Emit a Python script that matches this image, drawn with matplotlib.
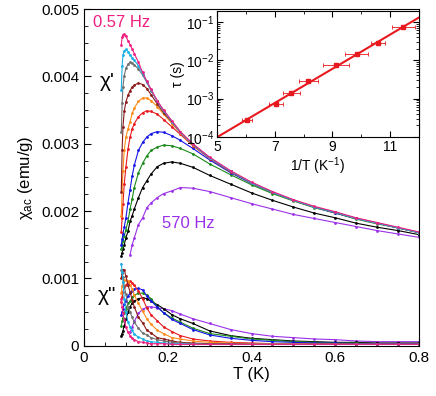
import matplotlib
matplotlib.use('Agg')

import numpy as np
import matplotlib.pyplot as plt
from matplotlib.ticker import MultipleLocator, FixedLocator, FuncFormatter

plt.rcParams['font.family'] = ['Liberation Sans', 'DejaVu Sans']
plt.rcParams['mathtext.default'] = 'regular'

nan = np.nan

# temperature grid (K), shared by all frequencies
T = [0.089, 0.091, 0.093, 0.096, 0.100, 0.105, 0.110, 0.115, 0.120, 0.130,
     0.140, 0.150, 0.160, 0.175, 0.190, 0.210, 0.230, 0.260, 0.300, 0.350,
     0.400, 0.450, 0.500, 0.550, 0.600, 0.650, 0.700, 0.750, 0.800]

# chi' (emu/g), lowest frequency (0.57 Hz) to highest (570 Hz)
re_pink = [0.00447, 0.00458, 0.00462, 0.00463, 0.00460, 0.00453, 0.00447, 0.00441, 0.00434, 0.00421,
           0.00406, 0.00393, 0.00381, 0.00364, 0.00350, 0.00334, 0.00318, 0.00300, 0.00280, 0.00260,
           0.00243, 0.00229, 0.00217, 0.00207, 0.00199, 0.00190, 0.00183, 0.00176, 0.00169]
re_cyan = [0.00380, 0.00415, 0.00432, 0.00438, 0.00440, 0.00437, 0.00432, 0.00428, 0.00424, 0.00416,
           0.00404, 0.00392, 0.00380, 0.00363, 0.00349, 0.00333, 0.00317, 0.00299, 0.00279, 0.00259,
           0.00242, 0.00228, 0.00216, 0.00206, 0.00198, 0.00189, 0.00182, 0.00175, 0.00168]
re_gray = [0.00317, 0.00360, 0.00385, 0.00401, 0.00412, 0.00418, 0.00421, 0.00420, 0.00417, 0.00411,
           0.00402, 0.00391, 0.00379, 0.00363, 0.00349, 0.00333, 0.00317, 0.00299, 0.00279, 0.00259,
           0.00242, 0.00228, 0.00216, 0.00206, 0.00198, 0.00189, 0.00182, 0.00175, 0.00168]
re_maroon = [0.00229, 0.00290, 0.00325, 0.00348, 0.00362, 0.00372, 0.00379, 0.00384, 0.00387, 0.00390,
             0.00388, 0.00382, 0.00373, 0.00359, 0.00346, 0.00332, 0.00317, 0.00299, 0.00279, 0.00259,
             0.00242, 0.00228, 0.00216, 0.00206, 0.00198, 0.00189, 0.00182, 0.00175, 0.00168]
re_orange = [0.00192, 0.00230, 0.00260, 0.00290, 0.00310, 0.00322, 0.00333, 0.00345, 0.00353, 0.00363,
             0.00368, 0.00368, 0.00364, 0.00355, 0.00344, 0.00330, 0.00316, 0.00298, 0.00279, 0.00259,
             0.00242, 0.00228, 0.00216, 0.00206, 0.00198, 0.00189, 0.00182, 0.00175, 0.00168]
re_red = [0.00169, 0.00190, 0.00210, 0.00240, 0.00265, 0.00292, 0.00310, 0.00322, 0.00330, 0.00340,
          0.00346, 0.00349, 0.00348, 0.00344, 0.00336, 0.00325, 0.00314, 0.00297, 0.00278, 0.00258,
          0.00242, 0.00228, 0.00216, 0.00206, 0.00198, 0.00189, 0.00182, 0.00175, 0.00168]
re_blue = [0.00150, 0.00158, 0.00166, 0.00176, 0.00190, 0.00212, 0.00232, 0.00252, 0.00268, 0.00290,
           0.00302, 0.00310, 0.00315, 0.00318, 0.00317, 0.00312, 0.00305, 0.00293, 0.00276, 0.00257,
           0.00241, 0.00228, 0.00216, 0.00206, 0.00197, 0.00189, 0.00182, 0.00175, 0.00168]
re_green = [0.00143, 0.00148, 0.00155, 0.00163, 0.00172, 0.00185, 0.00203, 0.00218, 0.00235, 0.00257,
            0.00271, 0.00282, 0.00290, 0.00295, 0.00298, 0.00297, 0.00293, 0.00285, 0.00270, 0.00254,
            0.00239, 0.00226, 0.00215, 0.00205, 0.00197, 0.00188, 0.00181, 0.00175, 0.00168]
re_black = [0.00133, 0.00138, 0.00143, 0.00150, 0.00160, 0.00170, 0.00185, 0.00193, 0.00203, 0.00220,
            0.00235, 0.00245, 0.00255, 0.00266, 0.00271, 0.00273, 0.00271, 0.00265, 0.00253, 0.00240,
            0.00227, 0.00216, 0.00206, 0.00197, 0.00190, 0.00182, 0.00176, 0.00171, 0.00165]
re_purple = [nan, nan, nan, nan, nan, nan, 0.00135, 0.00150, 0.00160, 0.00180,
             0.00190, 0.00205, 0.00212, 0.00220, 0.00226, 0.00230, 0.00235, 0.00234, 0.00229, 0.00220,
             0.00211, 0.00203, 0.00195, 0.00189, 0.00183, 0.00177, 0.00171, 0.00166, 0.00161]

# chi'' (emu/g)
im_pink = [0.00070, 0.00058, 0.00048, 0.00038, 0.00028, 0.00020, 0.00015, 0.00011, 0.00009, 0.00006,
           0.00005, 0.00004, 0.00003, 0.00003, 0.00003, 0.00002, 0.00002, 0.00002, 0.00002, 0.00002,
           0.00002, 0.00002, 0.00002, 0.00002, 0.00002, 0.00002, 0.00002, 0.00002, 0.00002]
im_cyan = [0.00122, 0.00110, 0.00095, 0.00070, 0.00050, 0.00035, 0.00028, 0.00023, 0.00017, 0.00013,
           0.00010, 0.00007, 0.00006, 0.00005, 0.00004, 0.00003, 0.00003, 0.00002, 0.00002, 0.00002,
           0.00002, 0.00002, 0.00002, 0.00002, 0.00002, 0.00002, 0.00002, 0.00002, 0.00002]
im_gray = [0.00112, 0.00108, 0.00102, 0.00088, 0.00077, 0.00058, 0.00050, 0.00042, 0.00035, 0.00026,
           0.00019, 0.00016, 0.00012, 0.00009, 0.00007, 0.00005, 0.00004, 0.00003, 0.00002, 0.00002,
           0.00002, 0.00002, 0.00002, 0.00002, 0.00002, 0.00002, 0.00002, 0.00002, 0.00002]
im_maroon = [0.00100, 0.00108, 0.00113, 0.00113, 0.00103, 0.00090, 0.00080, 0.00068, 0.00058, 0.00042,
             0.00034, 0.00023, 0.00019, 0.00012, 0.00010, 0.00007, 0.00005, 0.00004, 0.00003, 0.00003,
             0.00002, 0.00002, 0.00002, 0.00002, 0.00002, 0.00002, 0.00002, 0.00002, 0.00002]
im_orange = [0.00078, 0.00088, 0.00094, 0.00097, 0.00097, 0.00096, 0.00090, 0.00084, 0.00075, 0.00063,
             0.00051, 0.00040, 0.00032, 0.00023, 0.00018, 0.00012, 0.00010, 0.00007, 0.00005, 0.00004,
             0.00003, 0.00003, 0.00003, 0.00002, 0.00002, 0.00002, 0.00002, 0.00002, 0.00002]
im_red = [0.00065, 0.00072, 0.00080, 0.00087, 0.00090, 0.00094, 0.00096, 0.00093, 0.00090, 0.00081,
          0.00070, 0.00056, 0.00046, 0.00037, 0.00028, 0.00021, 0.00015, 0.00010, 0.00007, 0.00005,
          0.00004, 0.00003, 0.00003, 0.00003, 0.00003, 0.00002, 0.00002, 0.00002, 0.00002]
im_blue = [0.00045, 0.00050, 0.00055, 0.00062, 0.00067, 0.00074, 0.00078, 0.00082, 0.00084, 0.00085,
           0.00083, 0.00074, 0.00067, 0.00057, 0.00049, 0.00039, 0.00033, 0.00024, 0.00016, 0.00011,
           0.00008, 0.00006, 0.00005, 0.00004, 0.00004, 0.00003, 0.00003, 0.00003, 0.00003]
im_green = [0.00030, 0.00036, 0.00041, 0.00048, 0.00055, 0.00063, 0.00066, 0.00072, 0.00075, 0.00078,
            0.00078, 0.00075, 0.00070, 0.00058, 0.00049, 0.00041, 0.00035, 0.00026, 0.00018, 0.00014,
            0.00010, 0.00008, 0.00006, 0.00005, 0.00004, 0.00004, 0.00003, 0.00003, 0.00003]
im_black = [0.00015, 0.00018, 0.00022, 0.00030, 0.00039, 0.00050, 0.00058, 0.00063, 0.00066, 0.00070,
            0.00071, 0.00070, 0.00066, 0.00061, 0.00055, 0.00046, 0.00040, 0.00033, 0.00022, 0.00015,
            0.00011, 0.00009, 0.00007, 0.00006, 0.00005, 0.00005, 0.00004, 0.00004, 0.00004]
im_purple = [nan, nan, nan, nan, nan, nan, 0.00020, 0.00028, 0.00036, 0.00048,
             0.00054, 0.00057, 0.00058, 0.00056, 0.00055, 0.00052, 0.00047, 0.00040, 0.00033, 0.00024,
             0.00018, 0.00014, 0.00012, 0.00010, 0.00009, 0.00007, 0.00006, 0.00006, 0.00006]

# inset: relaxation time vs inverse temperature
inv_T = [6.04, 7.05, 7.58, 8.16, 9.13, 9.85, 10.58, 11.46]
inv_T_err = [0.19, 0.25, 0.30, 0.33, 0.44, 0.40, 0.23, 0.41]
tau = [2.8e-4, 7.4e-4, 1.4e-3, 2.8e-3, 7.4e-3, 1.45e-2, 2.8e-2, 7.3e-2]

colors = ['#9b30e8', 'black', '#1a8a1a', '#1515e6', '#e8191e',
          '#ff8c1a', '#8b1a1a', '#707070', '#1ab0e6', '#ee1f80']
re_all = [re_purple, re_black, re_green, re_blue, re_red,
          re_orange, re_maroon, re_gray, re_cyan, re_pink]
im_all = [im_purple, im_black, im_green, im_blue, im_red,
          im_orange, im_maroon, im_gray, im_cyan, im_pink]

fig = plt.figure(figsize=(4.36, 3.96), dpi=100)
ax = fig.add_axes([0.1927, 0.127, 0.7683, 0.85])

for c, re, im in zip(colors, re_all, im_all):
    ax.plot(T, re, '-o', color=c, lw=0.8, ms=2.0, mew=0)
    ax.plot(T, im, '-o', color=c, lw=0.8, ms=2.0, mew=0)

ax.set_xlim(0, 0.8)
ax.set_ylim(0, 0.005)
ax.xaxis.set_major_locator(MultipleLocator(0.2))
ax.xaxis.set_minor_locator(MultipleLocator(0.05))
ax.yaxis.set_major_locator(MultipleLocator(0.001))
ax.yaxis.set_minor_locator(MultipleLocator(0.00025))
fmt = FuncFormatter(lambda v, p: '0' if abs(v) < 1e-12 else '%g' % v)
ax.xaxis.set_major_formatter(fmt)
ax.yaxis.set_major_formatter(fmt)
ax.tick_params(which='both', direction='in', top=False, right=False, labelsize=11)
ax.tick_params(which='major', length=5)
ax.tick_params(which='minor', length=3)
ax.set_xlabel('T (K)', fontsize=12, labelpad=2)
ax.set_ylabel('χ$_{ac}$ (emu/g)', fontsize=12, labelpad=4)

ax.text(0.021, 0.00480, '0.57 Hz', color='#ee1f80', fontsize=12, va='center')
ax.text(0.1855, 0.00182, '570 Hz', color='#9b30e8', fontsize=12, va='center')
ax.text(0.037, 0.00393, "χ'", fontsize=15, va='center')
ax.text(0.033, 0.00075, 'χ"', fontsize=15, va='center')

# inset
ins = fig.add_axes([0.4977, 0.654, 0.4633, 0.318])
ins.errorbar(inv_T, tau, xerr=inv_T_err, fmt='s', color='#e8191e', ms=2.5,
             elinewidth=0.6, capsize=1.5, capthick=0.6)
p = np.polyfit(inv_T, np.log10(tau), 1)
xf = np.array([5, 12])
ins.plot(xf, 10 ** np.polyval(p, xf), color='#e8191e', lw=1.5)
ins.set_yscale('log')
ins.set_xlim(5, 12)
ins.set_ylim(1e-4, 0.19)
ins.xaxis.set_major_locator(FixedLocator([5, 7, 9, 11]))
ins.xaxis.set_minor_locator(MultipleLocator(1))
ins.set_yticks([1e-4, 1e-3, 1e-2, 1e-1])
ins.tick_params(which='both', direction='in', top=True, right=True, labelsize=10, pad=2)
ins.tick_params(which='major', length=4)
ins.tick_params(which='minor', length=2)
ins.set_xlabel('1/T (K$^{-1}$)', fontsize=10, labelpad=1)
ins.set_ylabel('τ (s)', fontsize=10, labelpad=1)

fig.savefig('out.png', dpi=100)
